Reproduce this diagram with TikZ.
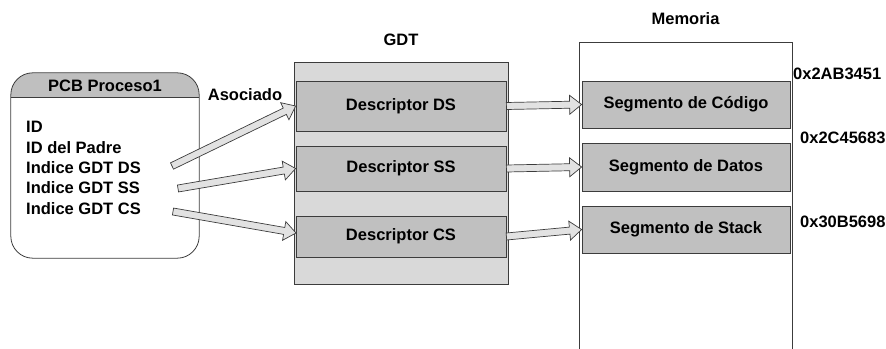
\documentclass[tikz,border=0pt]{standalone}
\usepackage{fontspec}
\setmainfont{Liberation Sans}
\usetikzlibrary{positioning, calc}

\definecolor{hdrgray}{RGB}{191,191,191}
\definecolor{gdtgray}{RGB}{217,217,217}
\definecolor{boxgray}{RGB}{192,192,192}
\definecolor{arrgray}{RGB}{226,226,226}
\definecolor{edgegray}{RGB}{60,60,60}

\tikzset{
    lbl/.style={font=\bfseries\fontsize{16.5}{20}\selectfont, inner sep=0pt},
    entry/.style={lbl, anchor=west},
    slot/.style={draw=edgegray, line width=0.8pt, fill=boxgray, minimum width=#1, lbl},
    blockarrow/.style={draw=edgegray, line width=0.7pt, fill=arrgray, line join=miter}
}

% flecha de bloque entre dos puntos
\newcommand{\blkarrow}[2]{%
    \draw[blockarrow] let \p1=($(#2)-(#1)$), \n1={atan2(\y1,\x1)}, \n2={veclen(\x1,\y1)} in
        [shift={(#1)}, rotate=\n1]
        (0,-3.5) -- (\n2-12,-3.5) -- (\n2-12,-9.5) -- (\n2,0) -- (\n2-12,9.5) -- (\n2-12,3.5) -- (0,3.5) -- cycle;
}

\begin{document}
\begin{tikzpicture}[x=1pt, y=-1pt]
    \clip (0,0) rectangle (886,348);

    % proceso
    \node[draw=none, minimum width=188pt, minimum height=185pt] (pcb) at (105,165.5) {};
    \begin{scope}
        \clip[rounded corners=22pt] (pcb.north west) rectangle (pcb.south east);
        \fill[hdrgray] (pcb.north west) rectangle ($(pcb.north east)+(0,24)$);
    \end{scope}
    \draw[edgegray, line width=0.6pt] ($(pcb.north west)+(0,24)$) -- ($(pcb.north east)+(0,24)$);
    \draw[edgegray, line width=0.8pt, rounded corners=22pt] (pcb.north west) rectangle (pcb.south east);
    \node[lbl] (pcbtitle) at (105,86) {PCB Proceso1};
    \node[entry] (id) at (26,127) {ID};
    \node[entry] (idpadre) at (26,147.5) {ID del Padre};
    \node[entry] (idxds) at (26,168) {Indice GDT DS};
    \node[entry] (idxss) at (26,188) {Indice GDT SS};
    \node[entry] (idxcs) at (26,208.5) {Indice GDT CS};
    \node[lbl] (asoc) at (245,95) {Asociado};

    % GDT
    \node[draw=edgegray, line width=0.8pt, fill=gdtgray, minimum width=214pt, minimum height=222pt] (gdt) at (401,173) {};
    \node[lbl] (gdtname) [above=16pt of gdt] {GDT};
    \node[slot=210pt, minimum height=50pt] (ds) at (401,106) {Descriptor DS};
    \node[slot=210pt, minimum height=45pt] (ss) at (401,168.5) {Descriptor SS};
    \node[slot=210pt, minimum height=41pt] (cs) at (401,236.5) {Descriptor CS};

    % memoria
    \node[draw=edgegray, line width=0.8pt, fill=white, minimum width=213pt, minimum height=316pt] (mem) at (685.5,200) {};
    \node[lbl] (memname) [above=17pt of mem] {Memoria};
    \node[slot=208pt, minimum height=47pt] (cod) at (686,104.5) {Segmento de Código};
    \node[slot=208pt, minimum height=48pt] (dat) at (686,167) {Segmento de Datos};
    \node[slot=208pt, minimum height=47pt] (stk) at (686,229.5) {Segmento de Stack};
    \node[entry] (dircod) at (793,74) {0x2AB3451};
    \node[entry] (dirdat) at (800,138) {0x2C45683};
    \node[entry] (dirstk) at (800,222) {0x30B5698};

    \coordinate (fromds) at (172,166);
    \coordinate (fromss) at (178,188.5);
    \coordinate (fromcs) at (173,211.5);
    \coordinate (tocs) at (296,233);

    \blkarrow{fromds}{ds.west}
    \blkarrow{fromss}{ss.west}
    \blkarrow{fromcs}{tocs}
    \blkarrow{ds.east}{cod.west}
    \blkarrow{ss.east}{dat.west}
    \blkarrow{cs.east}{stk.west}
\end{tikzpicture}
\end{document}
